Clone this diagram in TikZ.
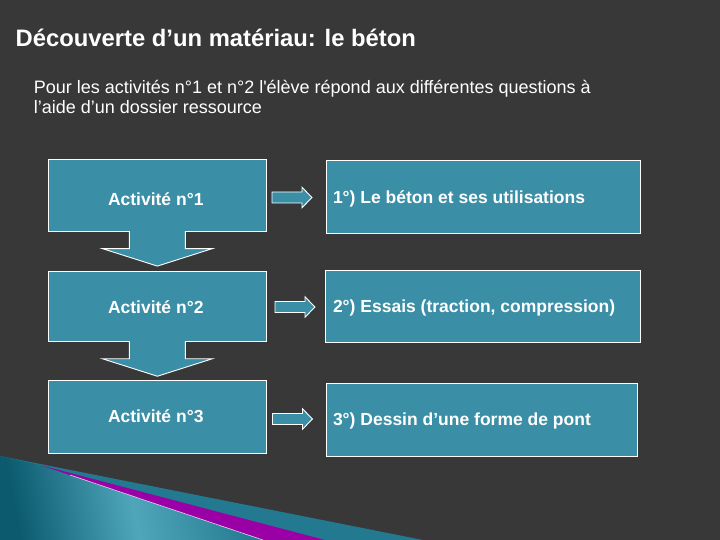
\documentclass[tikz,border=0pt]{standalone}
\usepackage{fontspec}
\setmainfont{Liberation Sans}
\definecolor{bgcol}{HTML}{383838}
\definecolor{boxteal}{HTML}{3A8EA5}
\definecolor{bandteal}{HTML}{23798F}
\definecolor{darkteal}{HTML}{0B5A6E}
\definecolor{lightteal}{HTML}{4FA6BB}
\definecolor{stripe}{HTML}{9A00A6}
\tikzset{
  box/.style={draw=white, line width=0.9pt, fill=boxteal, inner sep=0pt, outer sep=0pt},
  lbl/.style={text=white, inner sep=0pt, outer sep=0pt, anchor=base west, font=\bfseries\fontsize{17.5}{21}\selectfont},
  blockline/.style={draw=white, line width=0.9pt},
  downarr/.pic={
    \fill[boxteal] (-28,-1.2) -- (-28,17.5) -- (-55,17.5) -- (0,35) -- (55,17.5) -- (28,17.5) -- (28,-1.2) -- cycle;
    \draw[blockline] (-28,0) -- (-28,17.5) -- (-55,17.5) -- (0,35) -- (55,17.5) -- (28,17.5) -- (28,0);
  },
  rightarr/.pic={
    \draw[blockline, fill=boxteal] (0,-5.5) -- (30,-5.5) -- (30,-10.2) -- (40,0) -- (30,10.2) -- (30,5.5) -- (0,5.5) -- cycle;
  }
}
\begin{document}
\begin{tikzpicture}[x=1pt,y=-1pt]
\useasboundingbox (0,0) rectangle (720,540);
\fill[bgcol] (0,0) rectangle (720,540);
% bottom-left decoration
\fill[bandteal] (0,456) -- (423,540) -- (0,540) -- cycle;
\shade[left color=darkteal, right color=bandteal, middle color=lightteal, shading angle=100]
  (0,456) -- (40,465) -- (263,540) -- (0,540) -- cycle;
\fill[stripe] (40,465) -- (325,540) -- (263,540) -- cycle;
\draw[white, opacity=0.8, line width=0.6pt] (70,475) -- (263,540);
% title and intro
\node[text=white, inner sep=0pt, anchor=base west, font=\bfseries\fontsize{23.8}{28}\selectfont] (title) at (15.5,47) {Découverte d'un matériau: le béton};
\node[text=white, inner sep=0pt, anchor=base west, align=left, font=\fontsize{18}{20.7}\selectfont] (intro) at (33.6,114) {Pour les activités n°1 et n°2 l\textquotesingle élève répond aux différentes questions à\\l'aide d'un dossier ressource};
% left boxes
\node[box, minimum width=218.7pt, minimum height=71.8pt] (a1) at (157.35,195.2) {};
\node[box, minimum width=218.7pt, minimum height=69.5pt] (a2) at (157.35,306.5) {};
\node[box, minimum width=218.7pt, minimum height=73.3pt] (a3) at (157.35,416.65) {};
% right boxes
\node[box, minimum width=314.7pt, minimum height=73pt] (b1) at (483.35,196.5) {};
\node[box, minimum width=315.4pt, minimum height=71.3pt] (b2) at (483,306.35) {};
\node[box, minimum width=311.7pt, minimum height=73.4pt] (b3) at (481.85,420) {};
% down arrows
\pic at (a1.south) {downarr};
\pic at (a2.south) {downarr};
% right arrows
\pic at (272,197.5) {rightarr};
\pic at (275,307) {rightarr};
\pic at (272.5,419) {rightarr};
% labels
\node[lbl] (l1) at (108,205.6) {Activité n°1};
\node[lbl] (l2) at (108,313.3) {Activité n°2};
\node[lbl] (l3) at (108,422.7) {Activité n°3};
\node[lbl] (r1) at (333,203.3) {1°) Le béton et ses utilisations};
\node[lbl] (r2) at (333,312.5) {2°) Essais (traction, compression)};
\node[lbl] (r3) at (333,425.6) {3°) Dessin d'une forme de pont};
\end{tikzpicture}
\end{document}
